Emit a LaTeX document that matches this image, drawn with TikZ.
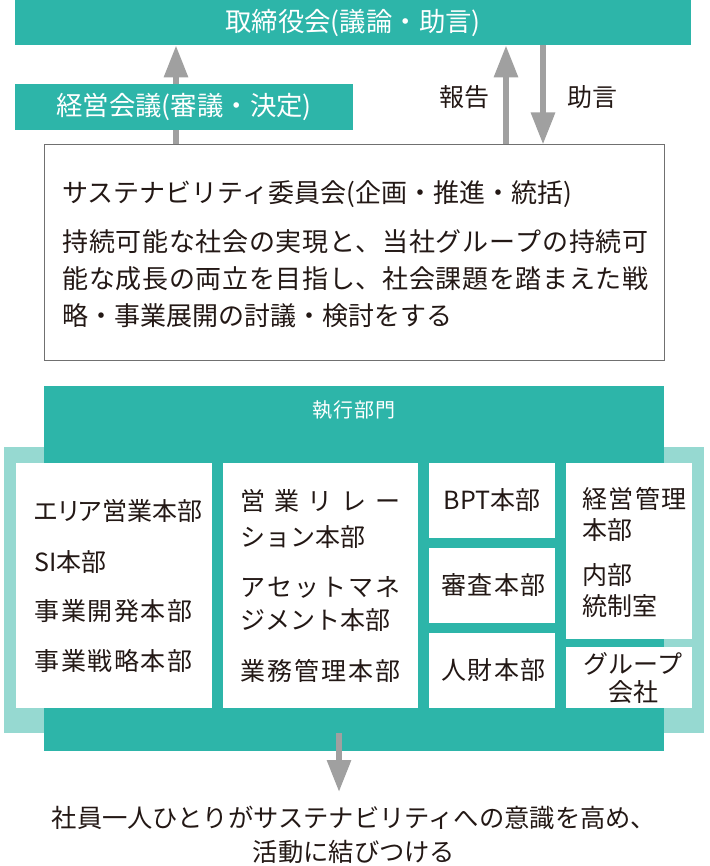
\documentclass[tikz,border=0pt]{standalone}
\usepackage{fontspec}
\setmainfont{Noto Sans CJK JP}
\usetikzlibrary{arrows.meta}
\definecolor{tealmain}{HTML}{2DB5A9}
\definecolor{teallight}{HTML}{96D9D1}
\definecolor{arrowgray}{HTML}{A0A0A0}
\definecolor{ink}{HTML}{231815}
\definecolor{linegray}{HTML}{707070}

% spread the characters of a line over a given width
\makeatletter
\newcommand\spreadline[2]{\hbox to #1{\spread@chars#2\@nil}}
\def\spread@chars#1#2\@nil{#1\ifx\relax#2\relax\else\hfil\spread@chars#2\@nil\fi}
\makeatother

\begin{document}
\begin{tikzpicture}[x=0.5pt,y=-0.5pt,
    tealbox/.style={fill=tealmain, text=white, inner sep=0pt, font=\fontsize{13.2pt}{15pt}\selectfont},
    whitebox/.style={fill=white, inner sep=0pt},
    label/.style={text=ink, inner sep=0pt, font=\fontsize{12.5pt}{15pt}\selectfont},
    unit/.style={label},
    paraline/.style={label, anchor=west, font=\fontsize{13pt}{15pt}\selectfont},
    grayarrow/.style={draw=arrowgray, line width=3pt, -{Triangle[length=16pt,width=11.5pt]}}]
    \useasboundingbox (0,0) rectangle (709,866);

    % board and committee
    \node[tealbox, minimum width=338pt, minimum height=22.5pt] (board) at (353,22.5) {取締役会(議論・助言)};
    \node[draw=linegray, line width=0.5pt, fill=white, inner sep=0pt, minimum width=310pt, minimum height=107.5pt] (iinkai) at (354,252.5) {};

    \coordinate (xkeiei) at (176,0);
    \coordinate (xhoukoku) at (506,0);
    \coordinate (xjogen) at (543,0);
    \draw[grayarrow] (iinkai.north -| xkeiei) -- (board.south -| xkeiei);
    \draw[grayarrow] (iinkai.north -| xhoukoku) -- (board.south -| xhoukoku);
    \draw[grayarrow] (board.south -| xjogen) -- (iinkai.north -| xjogen);

    \node[tealbox, minimum width=169pt, minimum height=23pt] (keiei) at (184,107) {経営会議(審議・決定)};
    \node[label] (houkoku) at (464,97) {報告};
    \node[label] (jogen) at (592,97) {助言};

    \node[paraline] (iinkaititle) at (62,194) {サステナビリティ委員会(企画・推進・統括)};
    \node[paraline] (para1) at (62,242) {\spreadline{293pt}{持続可能な社会の実現と、当社グループの持続可}};
    \node[paraline] (para2) at (62,279) {\spreadline{293pt}{能な成長の両立を目指し、社会課題を踏まえた戦}};
    \node[paraline] (para3) at (62,316) {略・事業展開の討議・検討をする};

    % execution
    \node[fill=teallight, inner sep=0pt, minimum width=350pt, minimum height=143pt] (frame) at (354,590) {};
    \node[tealbox, minimum width=310pt, minimum height=182.5pt] (shikko) at (354,568.5) {};
    \node[text=white, inner sep=0pt, font=\fontsize{10pt}{12pt}\selectfont\addfontfeature{LetterSpace=5}] (shikkolabel) at (354,410) {執行部門};

    \node[whitebox, minimum width=98pt, minimum height=122.5pt] (col1) at (114,585.5) {};
    \node[whitebox, minimum width=97.5pt, minimum height=122.5pt] (col2) at (320.5,585.5) {};
    \node[whitebox, minimum width=63pt, minimum height=37.5pt] (bpt) at (492,500.5) {};
    \node[whitebox, minimum width=63pt, minimum height=37.5pt] (shinsa) at (492,585.5) {};
    \node[whitebox, minimum width=63pt, minimum height=37.5pt] (jinzai) at (492,670.5) {};
    \node[whitebox, minimum width=63pt, minimum height=88pt] (kanri) at (629,551) {};
    \node[whitebox, minimum width=63pt, minimum height=30.5pt] (group) at (629,677.5) {};

    \node[unit, anchor=west, font=\fontsize{12.5pt}{15pt}\selectfont\addfontfeature{RawFeature=+palt}] (area) at (34,511) {エリア営業本部};
    \node[unit, anchor=west] (si) at (34,562) {SI本部};
    \node[unit, anchor=west] (kaihatsu) at (34,611) {\spreadline{79pt}{事業開発本部}};
    \node[unit, anchor=west] (senryaku) at (34,661) {\spreadline{79pt}{事業戦略本部}};

    \node[unit, anchor=west] (relation1) at (240,501) {\spreadline{80pt}{営業リレー}};
    \node[unit, anchor=west] (relation2) at (240,537) {ション本部};
    \node[unit, anchor=west] (asset1) at (240,587) {\spreadline{80pt}{アセットマネ}};
    \node[unit, anchor=west] (asset2) at (240,620) {ジメント本部};
    \node[unit, anchor=west] (gyomu) at (240,671) {\spreadline{80pt}{業務管理本部}};

    \node[unit] (bpttext) at (bpt) {BPT本部};
    \node[unit, anchor=west] (shinsatext) at (shinsa.center -| 441,0) {\spreadline{52pt}{審査本部}};
    \node[unit, anchor=west] (jinzaitext) at (jinzai.center -| 441,0) {\spreadline{52pt}{人財本部}};

    \node[unit, anchor=west] (kanri1) at (582,499) {\spreadline{52pt}{経営管理}};
    \node[unit, anchor=west] (kanri2) at (582,530) {本部};
    \node[unit, anchor=west] (naibu1) at (582,575) {内部};
    \node[unit, anchor=west] (naibu2) at (582,606) {統制室};
    \node[unit] (group1) at (633,664) {グループ};
    \node[unit] (group2) at (633,692) {会社};

    % result
    \coordinate (xdown) at (339,0);
    \coordinate (tip) at (339,792);
    \draw[grayarrow] (frame.south -| xdown) -- (tip);
    \node[label, align=center, font=\fontsize{12.65pt}{17pt}\selectfont] (message) at (354,835) {社員一人ひとりがサステナビリティへの意識を高め、\\活動に結びつける};
\end{tikzpicture}
\end{document}
